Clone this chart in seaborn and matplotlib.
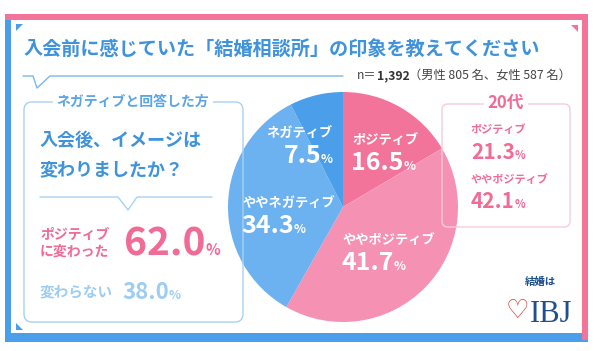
import matplotlib
matplotlib.use("Agg")
import matplotlib.pyplot as plt
import seaborn as sns
from matplotlib.patches import Rectangle, Polygon, FancyBboxPatch

# --- data ---
categories = ["ポジティブ", "ややポジティブ", "ややネガティブ", "ネガティブ"]
shares = [16.5, 41.7, 34.3, 7.5]
n_total = "1,392"
n_male = 805
n_female = 587
after_labels = ["ポジティブ\nに変わった", "変わらない"]
after_shares = [62.0, 38.0]
age20_labels = ["ポジティブ", "ややポジティブ"]
age20_shares = [21.3, 42.1]

sns.set_theme(style="white")
plt.rcParams["font.family"] = ["Noto Sans CJK JP", "DejaVu Sans"]

PINK = "#f27499"
BLUE = "#4a9fea"
TITLE_BLUE = "#3f93dc"
LIGHT_BLUE = "#9dcdf2"
TXT_PINK = "#f06b96"
palette = sns.color_palette(["#f3749b", "#f592b3", "#6cb1f0", "#4b9eea"])

W, H = 600, 351
fig = plt.figure(figsize=(W / 100, H / 100), dpi=100)
fig.patch.set_facecolor("white")

# pie, centre (343, 207), radius 115 px
cx, cy, r = 343, 207, 115
pax = fig.add_axes([(cx - r) / W, (H - cy - r) / H, 2 * r / W, 2 * r / H])
pax.pie(shares, colors=palette, startangle=90, counterclock=False,
        wedgeprops=dict(linewidth=0))
pax.set_xlim(-1, 1)
pax.set_ylim(-1, 1)
pax.axis("off")

# overlay in pixel coordinates
ax = fig.add_axes([0, 0, 1, 1])
ax.set_xlim(0, W)
ax.set_ylim(H, 0)
ax.axis("off")
ax.patch.set_alpha(0)

# frame
ax.add_patch(Rectangle((5, 14), 6, 328, color=BLUE, lw=0))
ax.add_patch(Rectangle((5, 333), 583, 9, color=BLUE, lw=0))
ax.add_patch(Rectangle((582, 14), 6, 326, color=PINK, lw=0))
ax.add_patch(Rectangle((5, 14), 583, 6, color=PINK, lw=0))
ax.add_patch(Polygon([(16, 24), (23, 24), (16, 31)], color=BLUE, lw=0))
ax.add_patch(Polygon([(571, 25), (578, 25), (578, 32)], color=PINK, lw=0))
ax.add_patch(Polygon([(16, 330), (23, 330), (16, 323)], color=BLUE, lw=0))

# title
ax.text(24, 50, "入会前に感じていた「結婚相談所」の印象を教えてください",
        fontsize=13.8, fontweight="bold", color=TITLE_BLUE, va="center", ha="left")
ax.plot([23, 33, 37, 50, 343], [76, 76, 88, 76, 76], color="#7ab8ec", lw=1)

fig.canvas.draw()
renderer = fig.canvas.get_renderer()


def run_texts(x, y, parts, va="baseline"):
    # parts: list of (text, size, weight, color); placed one after another
    for s, size, weight, color in parts:
        t = ax.text(x, y, s, fontsize=size, fontweight=weight, color=color,
                    ha="left", va=va)
        bb = t.get_window_extent(renderer=renderer)
        x += bb.width
    return x


run_texts(357, 79, [("n＝", 8.8, "normal", "#444444"),
                    (n_total, 8.8, "bold", "#333333"),
                    (f"（男性 {n_male} 名、女性 {n_female} 名）", 8.8, "normal", "#444444")])

# left box
ax.add_patch(FancyBboxPatch((24, 102), 219, 220, boxstyle="round,pad=0,rounding_size=8",
                            fc="none", ec="#a9d1f2", lw=1))
ax.text(133, 102, "ネガティブと回答した方", fontsize=10, fontweight="bold",
        color="#5aa5e6", ha="center", va="center",
        bbox=dict(fc="white", ec="none", pad=3))
ax.text(40, 140, "入会後、イメージは", fontsize=13, fontweight="bold",
        color=TITLE_BLUE, ha="left", va="center")
ax.text(40, 170, "変わりましたか？", fontsize=13, fontweight="bold",
        color=TITLE_BLUE, ha="left", va="center")
ax.plot([40, 118, 128, 137, 212], [197, 197, 210, 197, 197], color="#a9d1f2", lw=1)

ax.text(40, 243, after_labels[0], fontsize=10, fontweight="bold", color=TXT_PINK,
        ha="left", va="center", linespacing=1.25)
run_texts(124, 255, [(f"{after_shares[0]:.1f}", 28, "bold", TXT_PINK),
                     ("%", 11, "bold", TXT_PINK)])
ax.text(40, 291, after_labels[1], fontsize=10.5, fontweight="bold", color=LIGHT_BLUE,
        ha="left", va="center")
run_texts(122, 299, [(f"{after_shares[1]:.1f}", 16, "bold", LIGHT_BLUE),
                     ("%", 9, "bold", LIGHT_BLUE)])

# pie labels
pie_label_pos = [(352, 140, "left"), (342, 240, "left"), (242, 203, "left"), (333, 133, "right")]
for (lx, ly, ha), cat, v in zip(pie_label_pos, categories, shares):
    ax.text(lx, ly, cat, fontsize=9.5, fontweight="bold",
            color="white", ha=ha, va="center")
    x0 = lx - 1
    if ha == "right":
        widths = []
        for s, size in [(f"{v:.1f}", 18), ("%", 9)]:
            t = ax.text(0, 0, s, fontsize=size, fontweight="bold")
            widths.append(t.get_window_extent(renderer=renderer).width)
            t.remove()
        x0 = lx - sum(widths)
    run_texts(x0, ly + 30, [(f"{v:.1f}", 18, "bold", "white"),
                            ("%", 9, "bold", "white")])

# right box (20s)
ax.add_patch(FancyBboxPatch((442, 104), 128, 123, boxstyle="round,pad=0,rounding_size=6",
                            fc="none", ec="#f9cad9", lw=1))
ax.text(506, 103, "20代", fontsize=12, fontweight="bold", color=TXT_PINK,
        ha="center", va="center", bbox=dict(fc="white", ec="none", pad=3))
for (lbl, v, ly) in zip(age20_labels, age20_shares, [130, 179]):
    ax.text(471, ly, lbl, fontsize=8, fontweight="bold", color=TXT_PINK,
            ha="left", va="center")
    run_texts(471, ly + 29, [(f"{v:.1f}", 15, "bold", TXT_PINK),
                             ("%", 8, "bold", TXT_PINK)])

# logo
ax.text(540, 282, "結婚は", fontsize=7.5, fontweight="bold", color="#1f4f8f",
        ha="center", va="center")
ax.text(517, 311, "♡", fontsize=19, color="#d9363e", ha="center", va="center",
        family=["DejaVu Sans"])
ax.text(530, 322, "IBJ", fontsize=22, color="#1f4f8f", ha="left", va="baseline",
        family=["Liberation Serif", "DejaVu Serif"])

fig.savefig("out.png", dpi=100, facecolor="white")
